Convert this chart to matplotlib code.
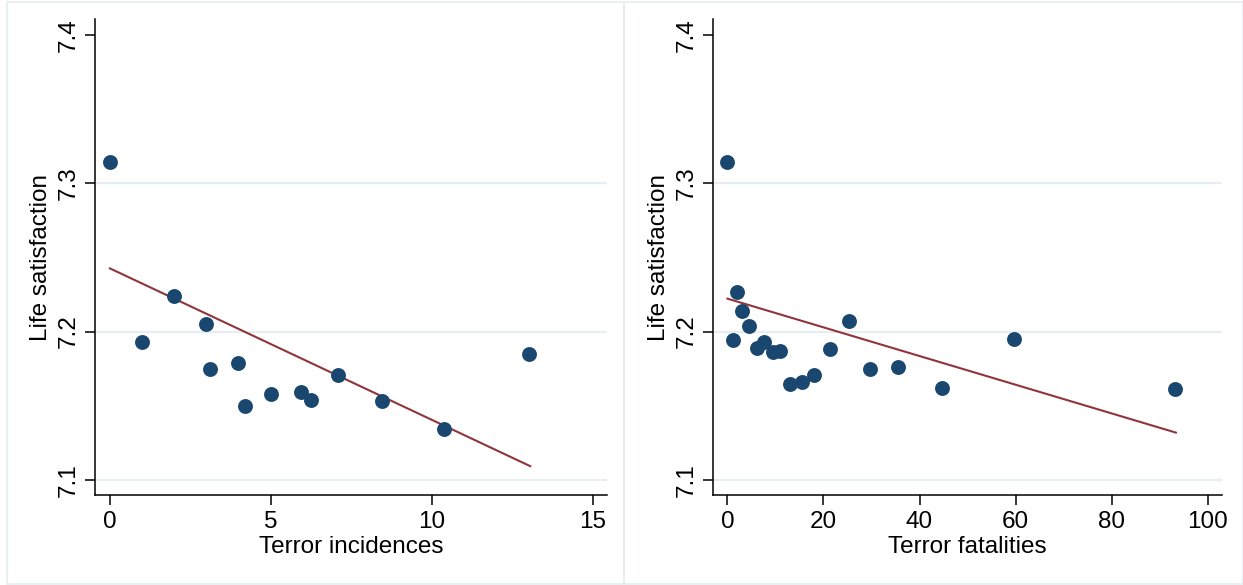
import numpy as np
import matplotlib.pyplot as plt
from matplotlib.patches import Rectangle

plt.rcParams['font.family'] = ['Liberation Sans', 'DejaVu Sans']

# left panel: terror incidences vs life satisfaction
inc_x = [0, 1.0, 1.98, 2.99, 3.11, 3.98, 4.19, 4.99, 5.92, 6.25, 7.09, 8.44, 10.37, 13.02]
inc_y = [7.314, 7.193, 7.224, 7.205, 7.175, 7.179, 7.150, 7.158, 7.159, 7.154, 7.171, 7.153, 7.134, 7.185]
inc_fit_x = [0, 13.05]
inc_fit_y = [7.2426, 7.1093]

# right panel: terror fatalities vs life satisfaction
fat_x = [0, 1.07, 2.06, 3.05, 4.53, 6.09, 7.57, 9.47, 11.03, 13.0, 15.47, 17.94, 21.4, 25.35, 29.7, 35.6, 44.7, 59.6, 93.25]
fat_y = [7.314, 7.194, 7.227, 7.214, 7.204, 7.189, 7.193, 7.186, 7.187, 7.165, 7.166, 7.171, 7.188, 7.207, 7.175, 7.176, 7.162, 7.195, 7.161]
fat_fit_x = [0, 93.4]
fat_fit_y = [7.2222, 7.1319]

yticks = [7.1, 7.2, 7.3, 7.4]

navy = '#1a476f'
maroon = '#90353b'
grid_col = '#e6eef1'

fig = plt.figure(figsize=(12.43, 5.85), dpi=100)

# light panel frames
for x0, w in [(7, 617), (624, 619)]:
    fig.patches.append(Rectangle((x0 / 1243, 1 / 585), w / 1243, 582 / 585,
                                 transform=fig.transFigure, fill=False,
                                 edgecolor='#e6ecef', lw=1.2))

ax1 = fig.add_axes([0.0764, 0.1530, 0.4123, 0.8139])
ax2 = fig.add_axes([0.5735, 0.1530, 0.4096, 0.8139])

panels = [
    (ax1, inc_x, inc_y, inc_fit_x, inc_fit_y, 'Terror incidences', [0, 5, 10, 15], (-0.466, 15.45)),
    (ax2, fat_x, fat_y, fat_fit_x, fat_fit_y, 'Terror fatalities', [0, 20, 40, 60, 80, 100], (-3.04, 103.0)),
]

for ax, x, y, fx, fy, xlab, xt, xl in panels:
    for g in [7.1, 7.2, 7.3]:
        ax.axhline(g, color=grid_col, lw=1.6, zorder=0)
    ax.scatter(x, y, s=115, color=navy, zorder=3, linewidths=0)
    ax.plot(fx, fy, color=maroon, lw=1.5, zorder=2)
    ax.set_xlim(*xl)
    ax.set_ylim(7.0895, 7.4105)
    ax.set_xticks(xt)
    ax.set_yticks(yticks)
    ax.set_yticklabels(['7.1', '7.2', '7.3', '7.4'], rotation=90, va='center')
    ax.tick_params(labelsize=17.5, length=7, width=1.1, color='black', pad=4)
    ax.set_xlabel(xlab, fontsize=17.5, labelpad=2)
    ax.set_ylabel('Life satisfaction', fontsize=17.5, labelpad=4)
    for s in ['top', 'right']:
        ax.spines[s].set_visible(False)
    for s in ['left', 'bottom']:
        ax.spines[s].set_linewidth(1.1)

fig.savefig('out.png', dpi=100)
